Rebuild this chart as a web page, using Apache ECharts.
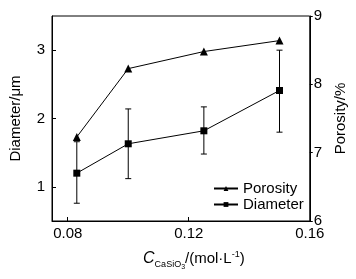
<!DOCTYPE html>
<html>
<head>
<meta charset="utf-8">
<script src="https://cdn.jsdelivr.net/npm/echarts@6/dist/echarts.min.js"></script>
<style>
  html, body { margin: 0; padding: 0; background: #fff; }
  #chart { width: 356px; height: 279px; }
</style>
</head>
<body>
<div id="chart"></div>
<script>
// 数据
const concentration = [0.083, 0.1, 0.125, 0.15];
const porosity = [7.23, 8.23, 8.48, 8.64];
const diameter = [1.2, 1.63, 1.82, 2.41];
const diameterLow = [0.76, 1.12, 1.48, 1.8];
const diameterHigh = [1.66, 2.14, 2.17, 3.0];
const xTicks = [0.08, 0.12, 0.16];
const leftTicks = [1, 2, 3];

const font = "'Liberation Sans', Arial, sans-serif";

let myChart = echarts.init(document.getElementById('chart'));

let errData = concentration.map((x, i) => [x, diameterLow[i], diameterHigh[i]]);

myChart.setOption({
    animation: false,
    backgroundColor: '#fff',
    textStyle: { fontFamily: font, color: '#000' },
    grid: {
        left: 41, right: 43, top: 16, bottom: 58,
        show: true, borderColor: '#000', borderWidth: 1, backgroundColor: 'transparent'
    },
    legend: {
        orient: 'vertical',
        left: 208,
        top: 176,
        itemWidth: 24,
        itemHeight: 6,
        itemGap: 1,
        textStyle: { fontSize: 15, color: '#000', fontFamily: font },
        data: ['Porosity', 'Diameter']
    },
    xAxis: {
        type: 'value',
        min: 0.0748,
        max: 0.16,
        name: '{c|C}{s|CaSiO}{t|3}{n|/(mol·L}{p|-1}{n|)}',
        nameLocation: 'middle',
        nameGap: 26,
        nameTextStyle: {
            padding: [0, 0, 0, 26],
            rich: {
                c: { fontSize: 16, fontStyle: 'italic', fontFamily: font, color: '#000' },
                s: { fontSize: 9, fontFamily: font, color: '#000', padding: [11, 0, 0, 0] },
                t: { fontSize: 7, fontFamily: font, color: '#000', padding: [17, 0, 0, 0] },
                n: { fontSize: 15, fontFamily: font, color: '#000' },
                p: { fontSize: 9, fontFamily: font, color: '#000', padding: [0, 0, 8, 0] }
            }
        },
        axisLine: { lineStyle: { color: '#000', width: 1 } },
        axisTick: { inside: true, length: 4, customValues: xTicks, lineStyle: { color: '#000' } },
        axisLabel: { customValues: xTicks, fontSize: 15, color: '#000', margin: 5, fontFamily: font },
        splitLine: { show: false }
    },
    yAxis: [
        {
            type: 'value',
            min: 0.5,
            max: 3.5,
            position: 'left',
            name: 'Diameter/μm',
            nameLocation: 'middle',
            nameRotate: 90,
            nameGap: 29,
            nameTextStyle: { fontSize: 15, color: '#000', fontFamily: font },
            axisLine: { show: true, lineStyle: { color: '#000', width: 1 } },
            axisTick: { inside: true, length: 4, customValues: leftTicks, lineStyle: { color: '#000' } },
            axisLabel: { customValues: leftTicks, fontSize: 15, color: '#000', margin: 7, fontFamily: font },
            splitLine: { show: false }
        },
        {
            type: 'value',
            min: 6,
            max: 9,
            interval: 1,
            position: 'right',
            name: 'Porosity/%',
            nameLocation: 'middle',
            nameRotate: 90,
            nameGap: 23,
            nameTextStyle: { fontSize: 15, color: '#000', fontFamily: font },
            axisLine: { show: true, lineStyle: { color: '#000', width: 1 } },
            axisTick: { inside: false, length: 3, lineStyle: { color: '#000' } },
            axisLabel: { fontSize: 15, color: '#000', margin: 4, fontFamily: font },
            splitLine: { show: false }
        }
    ],
    series: [
        {
            name: 'Porosity',
            type: 'line',
            yAxisIndex: 1,
            symbol: 'triangle',
            symbolSize: 8,
            lineStyle: { color: '#000', width: 1 },
            itemStyle: { color: '#000' },
            data: concentration.map((x, i) => [x, porosity[i]]),
            z: 3
        },
        {
            name: 'Diameter',
            type: 'line',
            yAxisIndex: 0,
            symbol: 'rect',
            symbolSize: 7,
            lineStyle: { color: '#000', width: 1 },
            itemStyle: { color: '#000' },
            data: concentration.map((x, i) => [x, diameter[i]]),
            z: 3
        },
        {
            // 误差棒
            type: 'custom',
            yAxisIndex: 0,
            z: 2,
            data: errData,
            renderItem: function (params, api) {
                let low = api.coord([api.value(0), api.value(1)]);
                let high = api.coord([api.value(0), api.value(2)]);
                let w = 3;
                let style = { stroke: '#000', lineWidth: 1 };
                return {
                    type: 'group',
                    children: [
                        { type: 'line', shape: { x1: high[0], y1: high[1], x2: low[0], y2: low[1] }, style: style },
                        { type: 'line', shape: { x1: high[0] - w, y1: high[1], x2: high[0] + w, y2: high[1] }, style: style },
                        { type: 'line', shape: { x1: low[0] - w, y1: low[1], x2: low[0] + w, y2: low[1] }, style: style }
                    ]
                };
            }
        }
    ]
});

window.addEventListener('resize', () => {
    myChart.resize();
});
</script>
</body>
</html>
